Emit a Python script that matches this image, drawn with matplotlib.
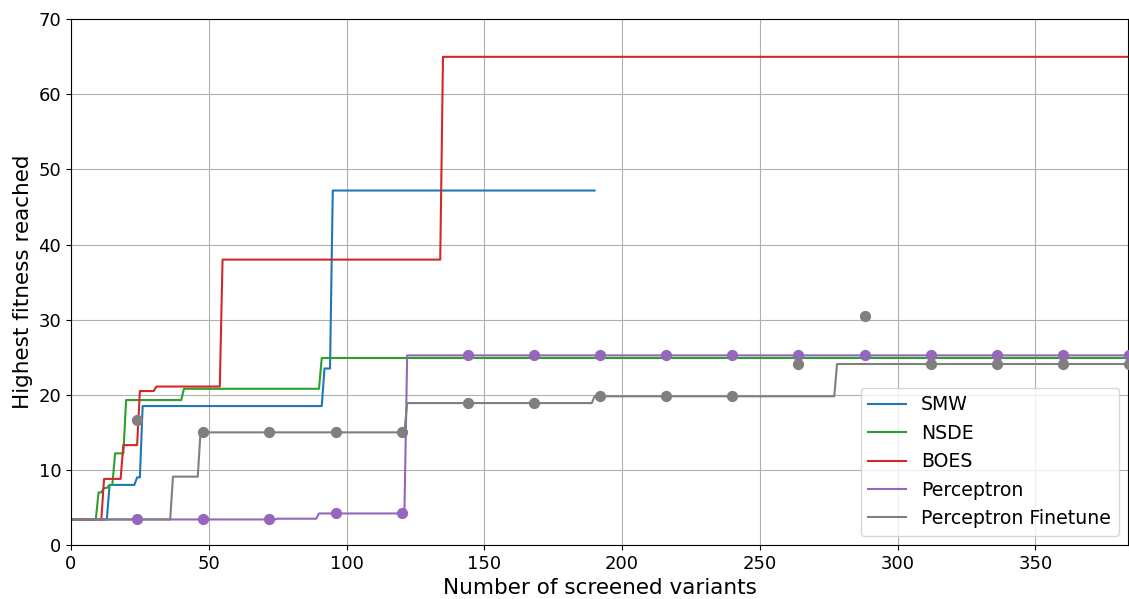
import numpy as np
import matplotlib
matplotlib.use("Agg")
import matplotlib.pyplot as plt

# Best fitness found so far: each series is stored as the variant index at which
# a new best appears and the value it reaches from there on.
smw_change_x = [0, 14, 24, 26, 92, 95]
smw_values = [3.4, 8.0, 9.0, 18.5, 23.5, 47.2]
smw_last = 190

nsde_change_x = [0, 10, 12, 14, 16, 20, 41, 91]
nsde_values = [3.4, 7.0, 7.6, 8.0, 12.2, 19.3, 20.8, 24.9]
nsde_last = 384

boes_change_x = [0, 12, 19, 25, 31, 55, 135]
boes_values = [3.4, 8.8, 13.3, 20.5, 21.1, 38.0, 65.0]
boes_last = 384

perc_change_x = [0, 75, 90, 122]
perc_values = [3.4, 3.5, 4.2, 25.25]
perc_last = 384

ft_change_x = [0, 37, 47, 122, 190, 278]
ft_values = [3.4, 9.1, 15.0, 18.9, 19.8, 24.1]
ft_last = 384

# Best fitness of each screening round (every 24 variants)
round_x = [24, 48, 72, 96, 120, 144, 168, 192, 216, 240, 264, 288, 312, 336, 360, 384]
perc_round_best = [3.4, 3.4, 3.4, 4.2, 4.2, 25.25, 25.25, 25.25, 25.25, 25.25,
                   25.25, 25.25, 25.25, 25.25, 25.25, 25.25]
ft_round_best = [16.6, 15.0, 15.0, 15.0, 15.0, 18.9, 18.9, 19.8, 19.8, 19.8,
                 24.1, 30.5, 24.1, 24.1, 24.1, 24.1]


def best_so_far(change_x, values, last):
    x = np.arange(0, last + 1)
    idx = np.searchsorted(change_x, x, side="right") - 1
    return x, np.asarray(values)[idx]


fig = plt.figure(figsize=(11.29, 5.99), dpi=100)
ax = fig.add_axes([71 / 1129, 1 - 545 / 599, (1128 - 71) / 1129, (545 - 19.3) / 599])

series = [
    ("SMW", smw_change_x, smw_values, smw_last, "tab:blue"),
    ("NSDE", nsde_change_x, nsde_values, nsde_last, "tab:green"),
    ("BOES", boes_change_x, boes_values, boes_last, "tab:red"),
    ("Perceptron", perc_change_x, perc_values, perc_last, "tab:purple"),
    ("Perceptron Finetune", ft_change_x, ft_values, ft_last, "tab:gray"),
]
for name, cx, vals, last, color in series:
    x, y = best_so_far(cx, vals, last)
    ax.plot(x, y, color=color, lw=1.5, label=name)

ax.scatter(round_x, perc_round_best, color="tab:purple", s=50, zorder=3)
ax.scatter(round_x, ft_round_best, color="tab:gray", s=50, zorder=3)

ax.set_xlim(0, 383.6)
ax.set_ylim(0, 70)
ax.grid(True)
ax.tick_params(labelsize=13)
ax.set_xlabel("Number of screened variants", fontsize=15.5)
ax.set_ylabel("Highest fitness reached", fontsize=15.5)
ax.legend(loc="lower right", fontsize=13.6)

fig.savefig("out.png", dpi=100)
